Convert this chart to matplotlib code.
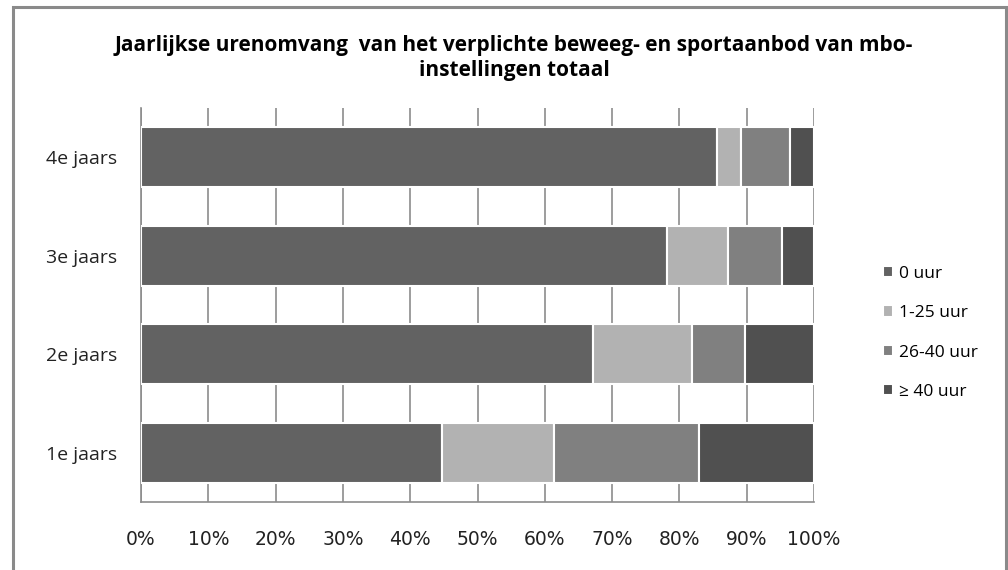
import matplotlib.pyplot as plt
import matplotlib.patches as mpatches
import numpy as np

plt.rcParams['font.family'] = ['Open Sans', 'DejaVu Sans']

# data (percentages per year group)
categories = ['1e jaars', '2e jaars', '3e jaars', '4e jaars']
series_names = ['0 uur', '1-25 uur', '26-40 uur', '\u2265 40 uur']
uur_0 = [44.7, 67.1, 78.2, 85.6]
uur_1_25 = [16.7, 14.7, 9.0, 3.6]
uur_26_40 = [21.5, 7.9, 8.0, 7.2]
uur_40_plus = [17.1, 10.3, 4.8, 3.6]
colors = ['#626262', '#b2b2b2', '#808080', '#505050']
x_ticks = np.arange(0, 101, 10)

fig = plt.figure(figsize=(10.08, 5.70), dpi=100)
W, H = 1008, 570

# outer chart border
fig.patches.append(mpatches.Rectangle((13 / W, -0.01), (1006 - 13) / W, 1 - 7 / H + 0.01,
                                      transform=fig.transFigure, fill=False,
                                      edgecolor='#8a8a8a', linewidth=2.2))

ax = fig.add_axes([141 / W, 1 - 502 / H, (814 - 141) / W, (502 - 108) / H])

y = np.arange(len(categories))
left = np.zeros(len(categories))
for vals, name, col in zip([uur_0, uur_1_25, uur_26_40, uur_40_plus], series_names, colors):
    ax.barh(y, vals, left=left, height=0.61, color=col, edgecolor='white',
            linewidth=1.5, label=name, zorder=3)
    left += np.array(vals)

ax.set_xlim(0, 100)
ax.set_ylim(-0.5, 3.5)
ax.set_xticks(x_ticks)
ax.set_xticklabels([f'{v}%' for v in x_ticks], fontsize=13.5, color='#222222',
                   family='DejaVu Sans')
ax.set_yticks(y)
ax.set_yticklabels(categories, fontsize=14, color='#222222')
ax.tick_params(axis='x', length=0, pad=20)
ax.tick_params(axis='y', length=0, pad=17)
ax.xaxis.grid(True, color='#8c8c8c', linewidth=1.2, zorder=0)
for s in ['top', 'right']:
    ax.spines[s].set_visible(False)
for s in ['left', 'bottom']:
    ax.spines[s].set_color('#8c8c8c')
    ax.spines[s].set_linewidth(1.2)

fig.text(514 / W, 1 - 58 / H,
         'Jaarlijkse urenomvang  van het verplichte beweeg- en sportaanbod van mbo-\ninstellingen totaal',
         ha='center', va='center', fontsize=15, fontweight='bold', linespacing=1.25)

ax.legend(loc='upper left', bbox_to_anchor=(874 / W, 1 - 257 / H), bbox_transform=fig.transFigure,
          frameon=False, fontsize=12.5, handlelength=0.6, handleheight=0.6, handletextpad=0.35,
          labelspacing=1.35, borderpad=0)

fig.savefig('out.png', dpi=100)
